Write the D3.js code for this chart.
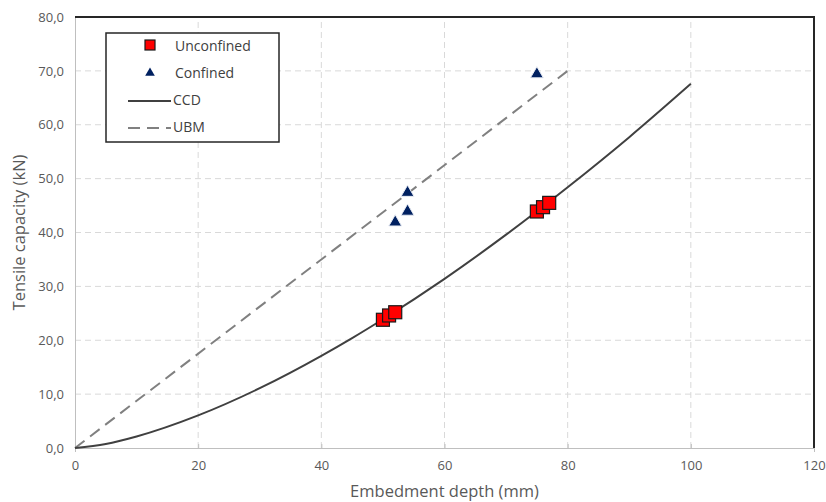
<!DOCTYPE html>
<html>
<head>
<meta charset="utf-8">
<script src="https://cdn.jsdelivr.net/npm/d3@7"></script>
<style>
body { margin: 0; background: #fff; }
text { font-family: "Open Sans", Calibri, sans-serif; }
</style>
</head>
<body>
<svg width="826" height="502"></svg>
<script>
// data
const unconfinedDepth = [50, 51, 52, 75, 76, 77]
const unconfinedLoad = [23.8, 24.6, 25.2, 43.9, 44.7, 45.5]
const confinedDepth = [52, 54, 54, 75]
const confinedLoad = [41.9, 43.9, 47.4, 69.4]
const ccdDepth = [0, 5, 10, 20, 30, 40, 45, 50, 60, 70, 80, 90, 100]
const ccdLoad = [0, 0.76, 2.14, 6.05, 11.1, 17.1, 20.4, 23.9, 31.4, 39.6, 48.4, 57.7, 67.6]
const ubmDepth = [0, 80]
const ubmLoad = [0, 70]
const xTicks = [0, 20, 40, 60, 80, 100, 120]
const yTicks = [0, 10, 20, 30, 40, 50, 60, 70, 80]

const svg = d3.select('svg')
const x = d3.scaleLinear().domain([0, 120]).range([75, 814])
const y = d3.scaleLinear().domain([0, 80]).range([448, 17])
const fmt = d => d.toFixed(1).replace('.', ',')

// grid
svg.append('g').selectAll('line')
    .data(xTicks.slice(1, -1))
    .enter().append('line')
    .attr('x1', d => x(d)).attr('x2', d => x(d))
    .attr('y1', y(0)).attr('y2', y(80))
    .attr('stroke', '#d9d9d9').attr('stroke-dasharray', '6,4')
svg.append('g').selectAll('line')
    .data(yTicks.slice(1, -1))
    .enter().append('line')
    .attr('y1', d => y(d)).attr('y2', d => y(d))
    .attr('x1', x(0)).attr('x2', x(120))
    .attr('stroke', '#d9d9d9').attr('stroke-dasharray', '6,4')

// axes
const xAxis = svg.append('g')
    .attr('transform', `translate(0,${y(0)})`)
    .call(d3.axisBottom(x).tickValues(xTicks).tickSize(4).tickPadding(9))
const yAxis = svg.append('g')
    .attr('transform', `translate(${x(0)},0)`)
    .call(d3.axisLeft(y).tickValues(yTicks).tickFormat(fmt).tickSize(0).tickPadding(11))
for (const ax of [xAxis, yAxis]) {
    ax.select('.domain').attr('stroke', '#bfbfbf')
    ax.selectAll('.tick line').attr('stroke', '#bfbfbf')
    ax.selectAll('text').attr('fill', '#595959').style('font-size', '13px')
}
yAxis.selectAll('.tick line').remove()
xAxis.selectAll('.tick line').attr('transform', 'translate(0,-4)')

// dark top/right frame
svg.append('path')
    .attr('d', `M${x(0)},${y(80)}H${x(120)}V${y(0)}`)
    .attr('fill', 'none').attr('stroke', '#262626').attr('stroke-width', 2)

// axis titles
svg.append('text')
    .attr('x', (x(0) + x(120)) / 2).attr('y', 497)
    .attr('text-anchor', 'middle').attr('fill', '#595959')
    .style('font-size', '16.5px').text('Embedment depth (mm)')
svg.append('text')
    .attr('transform', `translate(25,${(y(0) + y(80)) / 2}) rotate(-90)`)
    .attr('text-anchor', 'middle').attr('fill', '#595959')
    .style('font-size', '16.5px').text('Tensile capacity (kN)')

// lines
const line = d3.line().x(d => x(d[0])).y(d => y(d[1])).curve(d3.curveMonotoneX)
svg.append('path')
    .datum(ubmDepth.map((d, i) => [d, ubmLoad[i]]))
    .attr('d', line).attr('fill', 'none')
    .attr('stroke', '#808080').attr('stroke-width', 2).attr('stroke-dasharray', '12,7')
svg.append('path')
    .datum(ccdDepth.map((d, i) => [d, ccdLoad[i]]))
    .attr('d', line).attr('fill', 'none')
    .attr('stroke', '#404040').attr('stroke-width', 2)

// markers
const tri = d3.symbol().type(d3.symbolTriangle).size(72)
svg.append('g').selectAll('path')
    .data(confinedDepth.map((d, i) => [d, confinedLoad[i]]))
    .enter().append('path')
    .attr('d', tri)
    .attr('transform', d => `translate(${x(d[0])},${y(d[1])})`)
    .attr('fill', '#002060').attr('stroke', '#e8ecf4').attr('stroke-width', 1)
svg.append('g').selectAll('rect')
    .data(unconfinedDepth.map((d, i) => [d, unconfinedLoad[i]]))
    .enter().append('rect')
    .attr('x', d => x(d[0]) - 6.5).attr('y', d => y(d[1]) - 6.5)
    .attr('width', 13).attr('height', 13)
    .attr('fill', '#ff0000').attr('stroke', '#1a1a1a').attr('stroke-width', 1.2)

// legend
const lg = svg.append('g')
lg.append('rect').attr('x', 106).attr('y', 33).attr('width', 173).attr('height', 109)
    .attr('fill', '#fff').attr('stroke', '#262626').attr('stroke-width', 1.5)
lg.append('rect').attr('x', 145).attr('y', 40).attr('width', 10).attr('height', 10)
    .attr('fill', '#ff0000').attr('stroke', '#1a1a1a').attr('stroke-width', 1.2)
lg.append('path').attr('d', d3.symbol().type(d3.symbolTriangle).size(40))
    .attr('transform', 'translate(150,73)').attr('fill', '#002060')
lg.append('line').attr('x1', 128).attr('x2', 171).attr('y1', 101).attr('y2', 101)
    .attr('stroke', '#404040').attr('stroke-width', 2)
lg.append('line').attr('x1', 128).attr('x2', 171).attr('y1', 128).attr('y2', 128)
    .attr('stroke', '#808080').attr('stroke-width', 2).attr('stroke-dasharray', '12,7')
const labels = ['Unconfined', 'Confined', 'CCD', 'UBM']
const lx = [175, 175, 173, 173]
lg.selectAll('text.lab').data(labels).enter().append('text')
    .attr('x', (d, i) => lx[i]).attr('y', (d, i) => 46 + i * 27)
    .attr('dy', '0.35em').attr('fill', '#404040')
    .style('font-size', '14px').text(d => d)
</script>
</body>
</html>
